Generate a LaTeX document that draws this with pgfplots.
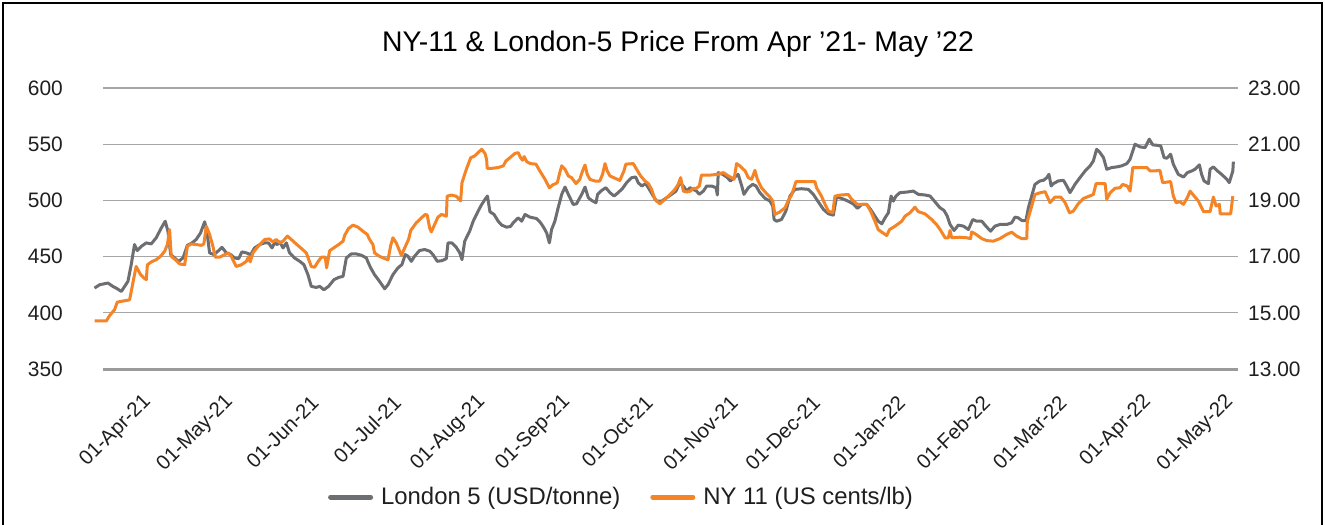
\documentclass[border=0pt]{standalone}
\usepackage{fontspec}
\setmainfont{Liberation Sans}
\usepackage{pgfplots}
\pgfplotsset{compat=1.18}
\usepackage{pgfplotstable}
\definecolor{lgray}{HTML}{6D6E71}
\definecolor{nyor}{HTML}{F58426}
\definecolor{gridc}{HTML}{A6A6A6}
\definecolor{axc}{HTML}{9A9A9A}
\definecolor{txt}{HTML}{1F1F1F}

% day = days since 01-Apr-21 ; v = London 5 (USD/tonne)
\pgfplotstableread{
d v
-17.3 422.0
-15.4 425.0
-12.4 426.5
-10.6 423.5
-9.4 422.0
-7.5 419.0
-5.1 428.0
-3.9 442.9
-2.7 460.7
-1.7 455.4
-0.2 459.2
1.6 462.2
3.4 461.3
5.2 466.7
7.1 475.6
8.5 481.5
9.5 472.6
10.5 451.8
12.2 448.2
13.4 445.8
15.0 448.8
16.6 460.1
18.3 462.2
19.8 465.2
21.4 471.1
22.9 481.0
23.7 472.6
24.7 453.3
26.3 451.8
28.0 455.4
29.2 458.3
30.8 453.3
32.4 451.8
33.8 448.8
35.3 448.2
36.5 454.2
38.1 453.3
39.7 451.8
41.1 457.7
43.0 460.7
44.8 462.2
46.2 462.2
47.5 457.7
48.4 462.2
49.4 460.7
50.3 463.1
51.5 457.7
52.7 462.2
53.9 453.3
55.7 448.8
57.6 445.8
59.1 442.9
60.6 433.9
61.8 423.5
63.6 422.6
64.9 423.5
66.4 420.5
68.1 423.5
70.1 429.5
71.8 431.5
73.4 432.4
74.6 448.8
76.4 452.4
78.2 452.4
80.1 451.2
81.9 448.8
82.5 445.2
83.5 439.9
84.9 433.9
86.7 428.0
88.6 421.4
89.8 425.0
91.6 433.9
93.4 439.9
94.9 442.9
96.1 451.8
97.1 450.3
98.3 445.8
99.5 450.3
101.3 455.4
103.2 456.3
105.0 454.8
106.2 451.8
107.8 445.8
109.5 446.4
111.1 448.2
111.7 462.2
113.1 462.2
114.7 458.3
116.0 453.3
116.8 447.3
117.8 463.7
119.6 472.6
120.9 481.5
122.7 490.5
124.0 496.4
125.2 500.9
126.1 503.9
127.0 489.9
128.5 487.5
130.0 481.5
131.3 478.0
133.1 476.2
134.5 476.8
135.5 480.1
137.3 484.5
138.6 481.5
139.8 487.5
141.6 485.1
144.0 483.9
145.5 480.1
146.7 475.6
147.7 471.1
148.7 462.2
149.5 474.1
150.7 481.5
151.9 493.5
153.2 505.4
154.4 511.9
155.6 505.4
157.4 496.4
158.6 497.0
160.5 505.4
161.7 511.9
162.9 502.4
164.1 500.0
165.7 497.9
166.3 505.4
167.8 508.9
169.3 511.3
170.8 506.9
172.3 503.9
173.8 506.9
175.4 510.7
176.9 515.8
178.7 520.2
180.2 520.8
181.1 515.8
182.4 512.8
183.8 514.9
184.8 511.3
186.6 503.9
187.8 499.4
189.7 499.4
191.5 502.4
193.3 505.4
194.9 508.3
196.3 515.8
197.6 512.8
198.8 508.3
200.0 511.3
201.2 509.8
202.4 508.3
203.4 505.4
204.9 508.3
206.1 512.8
207.9 512.8
209.5 511.3
210.0 504.8
210.3 524.7
211.9 523.2
213.4 520.8
214.8 517.3
216.1 520.2
217.6 523.2
218.9 512.8
219.7 505.4
221.3 511.3
222.9 514.3
224.1 512.8
225.5 506.9
227.4 501.8
229.2 499.4
230.2 495.0
230.7 483.0
231.6 481.5
233.4 483.0
235.0 490.5
236.5 503.9
238.3 509.8
240.7 510.4
243.2 509.8
245.0 505.4
246.8 498.8
248.7 492.0
250.5 488.1
252.3 486.9
253.5 503.0
255.3 501.8
257.2 499.9
259.6 496.9
261.1 492.9
262.7 496.4
264.5 496.4
265.9 492.0
267.5 486.0
268.7 481.5
270.0 479.2
271.2 484.5
272.4 489.0
273.4 503.9
274.2 499.4
275.2 503.9
276.6 506.9
279.1 507.4
281.5 508.3
283.3 505.4
285.8 504.8
287.6 503.9
289.4 498.8
291.2 493.5
292.7 491.1
293.9 486.0
294.9 478.6
296.4 473.2
297.9 478.0
299.8 477.1
301.6 474.1
303.2 483.0
304.6 481.5
306.5 481.5
308.0 477.1
309.7 472.6
311.3 477.1
313.1 478.6
315.6 478.6
317.4 480.1
318.6 485.1
319.8 484.5
321.1 482.1
322.6 482.1
323.5 493.5
324.7 503.9
325.9 514.3
327.7 517.3
329.0 517.9
330.2 520.2
331.0 523.2
331.8 512.8
332.6 514.9
334.4 517.3
336.3 517.9
337.5 512.8
338.7 506.9
340.5 514.3
342.3 520.2
344.2 526.2
346.0 530.7
347.2 535.1
348.4 545.5
349.6 542.6
350.9 538.1
352.1 527.7
353.9 529.2
355.7 529.8
357.5 530.7
359.4 532.7
360.6 536.6
362.4 550.0
364.2 547.6
366.1 547.0
367.6 554.5
368.9 549.4
370.3 549.1
371.8 548.5
373.0 538.1
374.0 537.5
375.4 541.1
376.4 532.1
378.2 523.2
380.1 520.8
381.5 524.7
383.1 526.2
384.3 527.7
385.9 531.6
386.7 523.2
387.6 517.3
389.2 514.9
389.8 527.7
391.0 529.8
392.2 526.8
394.0 523.2
395.9 518.8
396.8 515.8
398.1 526.2
398.3 534.5
}\london

% day = days since 01-Apr-21 ; v = NY 11 (US cents/lb)
\pgfplotstableread{
d v
-17.3 14.71
-13.0 14.71
-11.8 14.90
-10.0 15.11
-9.0 15.38
-6.3 15.43
-4.5 15.46
-3.3 16.06
-2.1 16.65
-0.5 16.36
0.7 16.24
1.6 16.18
2.0 16.71
3.4 16.81
5.2 16.89
6.8 17.01
8.3 17.19
9.3 17.43
10.1 17.96
10.7 17.01
12.2 16.89
13.8 16.74
15.6 16.71
16.6 17.37
18.0 17.45
19.8 17.43
21.7 17.40
22.6 17.45
23.5 18.08
24.7 17.79
25.9 17.37
26.8 16.98
28.4 16.98
30.2 17.07
31.6 17.13
32.6 17.01
34.4 16.65
36.3 16.71
38.1 16.83
39.0 17.01
39.5 16.81
40.5 17.13
42.1 17.33
43.6 17.49
44.8 17.61
46.6 17.63
47.8 17.52
49.0 17.61
50.3 17.49
51.5 17.55
53.1 17.73
54.5 17.61
56.3 17.45
58.2 17.29
60.0 17.13
61.8 16.65
63.0 16.62
64.2 16.81
65.5 16.98
66.9 16.98
67.4 16.60
68.5 17.21
70.3 17.33
71.8 17.43
73.4 17.55
74.0 17.76
75.4 18.00
77.0 18.12
78.8 18.05
80.7 17.90
82.2 17.79
83.1 17.61
84.3 17.43
84.9 17.13
86.7 17.01
88.6 16.93
89.8 16.89
90.8 17.40
91.6 17.67
92.8 17.49
94.7 17.04
95.9 17.31
97.3 17.61
98.1 17.93
100.1 18.20
102.0 18.38
103.4 18.50
104.1 18.48
105.0 18.02
105.6 17.88
106.8 18.14
108.0 18.40
109.3 18.50
111.1 18.44
111.4 19.15
112.9 19.19
114.7 19.15
116.3 18.98
116.8 19.63
118.4 20.11
120.0 20.52
121.4 20.58
122.7 20.70
124.0 20.82
125.2 20.67
125.8 20.46
126.0 20.14
127.6 20.14
130.0 20.17
131.9 20.23
132.8 20.40
134.3 20.52
136.1 20.67
137.3 20.70
138.2 20.52
138.9 20.43
139.5 20.56
140.4 20.38
141.8 20.31
143.8 20.29
145.2 20.05
147.1 19.75
148.7 19.45
149.9 19.55
151.6 19.63
152.5 19.99
153.2 20.23
154.4 20.11
155.6 19.87
156.8 19.81
158.4 19.60
159.8 19.75
160.8 20.05
161.7 20.26
162.5 19.93
163.5 19.75
165.3 19.69
167.1 19.69
168.1 19.93
169.0 20.31
169.8 20.05
170.8 19.87
172.6 19.79
174.4 19.71
175.9 20.05
176.6 20.29
179.3 20.31
180.5 20.11
182.0 19.87
183.6 19.69
184.8 19.60
186.0 19.39
187.2 19.04
189.0 18.88
190.9 19.04
192.7 19.21
194.5 19.39
195.7 19.57
196.6 19.81
197.6 19.33
198.8 19.30
200.2 19.33
201.0 19.43
202.2 19.42
203.4 19.51
204.2 19.90
207.3 19.90
210.3 19.93
212.2 19.99
214.0 19.87
215.2 19.81
216.1 19.75
217.0 20.31
218.2 20.23
220.1 20.05
221.3 19.81
222.5 19.75
223.7 20.07
224.6 19.75
226.1 19.45
227.7 19.27
229.2 19.12
230.2 18.98
231.0 18.50
232.8 18.59
234.7 18.74
235.9 19.00
237.1 19.19
238.7 19.67
241.4 19.67
245.6 19.67
246.2 19.45
248.0 19.15
249.3 18.86
250.5 18.62
252.1 18.56
252.9 19.15
254.7 19.19
257.8 19.21
259.0 19.04
260.8 18.88
261.4 18.86
264.5 18.86
265.9 18.62
267.5 18.26
268.7 17.96
270.3 17.85
271.8 17.75
272.8 17.96
274.8 18.08
277.3 18.26
278.5 18.44
280.3 18.56
282.1 18.76
283.3 18.60
285.8 18.52
288.2 18.32
290.0 18.14
291.5 17.93
293.1 17.67
294.3 17.67
294.9 17.93
295.5 17.67
298.5 17.69
301.0 17.67
302.4 17.64
302.8 17.88
304.4 17.79
306.5 17.64
308.3 17.57
310.7 17.55
313.1 17.64
315.6 17.79
317.4 17.87
319.2 17.73
321.1 17.64
322.9 17.64
323.1 18.26
324.1 18.59
325.9 19.21
327.7 19.27
329.6 19.31
331.4 18.92
333.2 19.12
335.3 19.12
336.9 18.92
338.5 18.56
339.9 18.62
341.7 18.88
343.6 19.07
345.4 19.14
347.2 19.21
348.2 19.60
351.5 19.60
352.1 19.04
353.3 19.27
355.1 19.43
356.9 19.45
357.9 19.57
359.6 19.51
360.6 19.33
361.6 20.17
364.2 20.17
366.7 20.17
367.9 20.05
369.7 20.05
371.5 20.07
372.5 19.63
375.4 19.67
376.4 19.15
377.4 18.92
378.8 18.95
380.1 18.86
381.5 19.10
382.5 19.33
383.7 19.19
385.5 18.98
387.4 18.60
389.8 18.60
391.0 19.12
392.0 18.80
393.2 18.86
393.5 18.52
397.3 18.52
398.1 19.15
}\nyeleven

\begin{document}
\begin{tikzpicture}
\useasboundingbox (0,0) rectangle (1325bp,-525bp);
\fill[white] (0,0) rectangle (1325bp,-525bp);
\draw[black, line width=2.5bp] (3bp,-525bp) -- (3bp,-3bp) -- (1322bp,-3bp) -- (1322bp,-525bp);

\begin{axis}[
  at={(103bp,-369bp)}, anchor=south west,
  width=1135bp, height=281bp, scale only axis,
  xmin=-14.2, xmax=400, ymin=350, ymax=600,
  clip=false,
  axis x line*=bottom, axis y line*=left,
  x axis line style={axc, line width=3bp, -},
  y axis line style={draw=none},
  major tick length=0pt,
  ytick={350,400,450,500,550,600},
  ymajorgrids, grid style={gridc, line width=1.3bp},
  xtick={0,30,61,91,122,153,183,214,244,275,306,334,365,395},
  xticklabels={01-Apr-21,01-May-21,01-Jun-21,01-Jul-21,01-Aug-21,01-Sep-21,01-Oct-21,01-Nov-21,01-Dec-21,01-Jan-22,01-Feb-22,01-Mar-22,01-Apr-22,01-May-22},
  xticklabel style={xshift=6bp, yshift=-30bp, rotate=45, anchor=east, inner sep=0pt,
     font=\fontsize{20.5}{24}\selectfont, text=txt},
  yticklabel style={anchor=east, inner sep=0pt, xshift=-40bp,
     font=\fontsize{21}{25}\selectfont, text=txt},
  /pgf/number format/assume math mode=true,
]
\addplot[lgray, line width=3bp, line join=round] table[x=d, y=v] {\london};
\node[anchor=base, font=\fontsize{28.5}{34}\selectfont, text=black]
  at (rel axis cs:0.5066,1.13) {NY-11 \& London-5 Price From Apr ’21- May ’22};
\end{axis}

\begin{axis}[
  at={(103bp,-369bp)}, anchor=south west,
  width=1135bp, height=281bp, scale only axis,
  xmin=-14.2, xmax=400, ymin=13, ymax=23,
  clip=false,
  axis x line=none, axis y line*=right,
  y axis line style={draw=none},
  major tick length=0pt,
  ytick={13,15,17,19,21,23},
  yticklabel style={anchor=west, inner sep=0pt, xshift=10bp,
     font=\fontsize{21}{25}\selectfont, text=txt},
  /pgf/number format/fixed, /pgf/number format/fixed zerofill,
  /pgf/number format/precision=2, /pgf/number format/assume math mode=true,
  legend columns=2,
  legend image code/.code={\draw[#1, line width=5bp, line cap=round] (0bp,0bp) -- (40bp,0bp);},
  legend style={draw=none, fill=none, at={(0.4568,-0.4555)}, anchor=center,
     font=\fontsize{24}{28}\selectfont, text=txt, inner sep=0pt,
     /tikz/every odd column/.append style={column sep=6bp},
     /tikz/every even column/.append style={column sep=28bp}},
]
\addlegendimage{lgray, line width=3bp}
\addlegendentry{London 5 (USD/tonne)}
\addplot[nyor, line width=3bp, line join=round] table[x=d, y=v] {\nyeleven};
\addlegendentry{NY 11 (US cents/lb)}
\end{axis}
\end{tikzpicture}
\end{document}
